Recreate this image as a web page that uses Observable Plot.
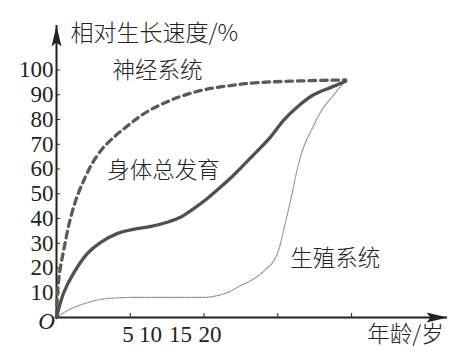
<!DOCTYPE html>
<html><head><meta charset="utf-8">
<script src="https://cdn.jsdelivr.net/npm/d3@7"></script>
<script src="https://cdn.jsdelivr.net/npm/@observablehq/plot@0.6"></script>
<style>html,body{margin:0;padding:0;background:#fff;}</style>
</head><body><div id="chart"></div>
<script>
// Series values (age in years, relative growth in %)
const neuralAge  = [0, 0.07, 0.2, 0.4, 0.58, 0.8, 1.08, 1.42, 1.76, 2.05, 2.44, 3.12, 3.8, 4.47, 5.15, 5.83, 6.57, 7.39, 8.2, 9.08, 9.96, 10.9, 11.9, 12.8, 14.5, 16.5, 18.5, 19.6];
const neuralRate = [0, 9.7, 17.8, 24.5, 30, 36.5, 43, 49.3, 54.2, 58, 62.5, 68.3, 72.4, 75.8, 79, 82, 84.6, 86.9, 88.9, 90.6, 92, 93, 93.8, 94.5, 95.2, 95.6, 95.9, 96];
const bodyAge  = [0, 0.47, 1.15, 2.1, 3.0, 4.15, 5.2, 6.4, 7.5, 8.4, 9.3, 10.2, 11.1, 12.0, 13.2, 14.5, 15.4, 16.3, 17.4, 18.6, 19.6];
const bodyRate = [0, 9.7, 17.8, 25.9, 30.4, 34, 35.6, 36.8, 38.5, 40.5, 44, 48, 52.6, 57.5, 64.8, 72.9, 79.8, 85, 89.9, 93, 95.5];
const reproAge  = [0, 0.75, 2.1, 3.5, 5.2, 7.5, 9.8, 11.6, 12.5, 13.2, 14.1, 15.0, 15.5, 16.0, 16.3, 16.7, 17.3, 18.0, 18.8, 19.6];
const reproRate = [0, 2.8, 6, 7.7, 8.1, 8.1, 8.1, 10.1, 13, 15, 19, 26.3, 38, 51, 59.5, 68, 76, 84, 90, 96];

// Axis ticks and labels
const yTicks = [10, 20, 30, 40, 50, 60, 70, 80, 90, 100];
const xTicks = [5, 10, 15, 20];
const xTickLabels = ["5", "10", "15", "20"];
const xTickLabelAt = [4.85, 6.37, 8.4, 10.4];
const xEnd = 26.5, yEnd = 118;

// Annotation labels
const seriesLabels = ["神经系统", "身体总发育", "生殖系统"];
const seriesLabelAge = [6.85, 7.25, 18.9];
const seriesLabelRate = [99.8, 59.4, 23.8];

const zip = (a, b) => a.map((v, i) => ({x: v, y: b[i]}));
const neural = zip(neuralAge, neuralRate);
const body = zip(bodyAge, bodyRate);
const repro = zip(reproAge, reproRate);
const xLabels = xTickLabels.map((t, i) => ({t, x: xTickLabelAt[i]}));
const sLabels = seriesLabels.map((t, i) => ({t, x: seriesLabelAge[i], y: seriesLabelRate[i]}));

const cjk = "'Noto Sans CJK SC', 'Noto Sans', sans-serif";
const serif = "'Liberation Serif', 'DejaVu Serif', serif";

// filled arrowhead with tip at the anchor, pointing up
const arrowHead = {draw(ctx) { ctx.moveTo(0, 0); ctx.lineTo(-5, 21); ctx.lineTo(0, 17); ctx.lineTo(5, 21); ctx.closePath(); }};

const plot = Plot.plot({
  width: 474, height: 361,
  marginLeft: 56, marginRight: 27, marginTop: 25, marginBottom: 44,
  x: {domain: [0, xEnd]},
  y: {domain: [0, yEnd]},
  style: {background: "#fff", color: "#222"},
  marks: [
    Plot.ruleX([0], {stroke: "#222", strokeWidth: 2}),
    Plot.ruleY([0], {stroke: "#222", strokeWidth: 2}),
    Plot.dot([{x: 0, y: yEnd, r: 0}, {x: xEnd, y: 0, r: 90}], {x: "x", y: "y", rotate: "r", symbol: arrowHead, fill: "#222", stroke: "none"}),
    Plot.axisY(yTicks, {tickSize: -4, tickPadding: 7, label: null, fontSize: 23, fontFamily: serif, stroke: "#222"}),
    Plot.axisX(xTicks, {tickSize: -4, tickFormat: () => "", label: null, stroke: "#222"}),
    Plot.text(xLabels, {x: "x", y: 0, text: "t", dy: 17, fontSize: 23, fontFamily: serif, fill: "#222"}),
    Plot.text(["O"], {x: 0, y: 0, text: d => d, dx: -10, dy: 4, fontSize: 23, fontStyle: "italic", fontFamily: serif, fill: "#222"}),
    Plot.line(repro, {x: "x", y: "y", curve: "monotone-x", stroke: "#8a8a8a", strokeWidth: 1.2, strokeDasharray: "1.2,1.3"}),
    Plot.line(neural, {x: "x", y: "y", curve: "catmull-rom", stroke: "#5a5a5a", strokeWidth: 3.3, strokeDasharray: "6.5,5"}),
    Plot.line(body, {x: "x", y: "y", curve: "catmull-rom", stroke: "#505050", strokeWidth: 3.3}),
    Plot.text(sLabels, {x: "x", y: "y", text: "t", fontSize: 22.5, fontFamily: cjk, fontWeight: 300, fill: "#222"}),
    Plot.text(["相对生长速度/%"], {x: 0, y: yEnd, text: d => d, dx: 14, dy: 8, textAnchor: "start", fontSize: 23, fontFamily: cjk, fontWeight: 300, fill: "#222"}),
    Plot.text(["年龄/岁"], {x: 23.65, y: 0, text: d => d, dy: 17, fontSize: 22.5, fontFamily: cjk, fontWeight: 300, fill: "#222"})
  ]
});
document.getElementById("chart").appendChild(plot);
</script>
</body></html>
